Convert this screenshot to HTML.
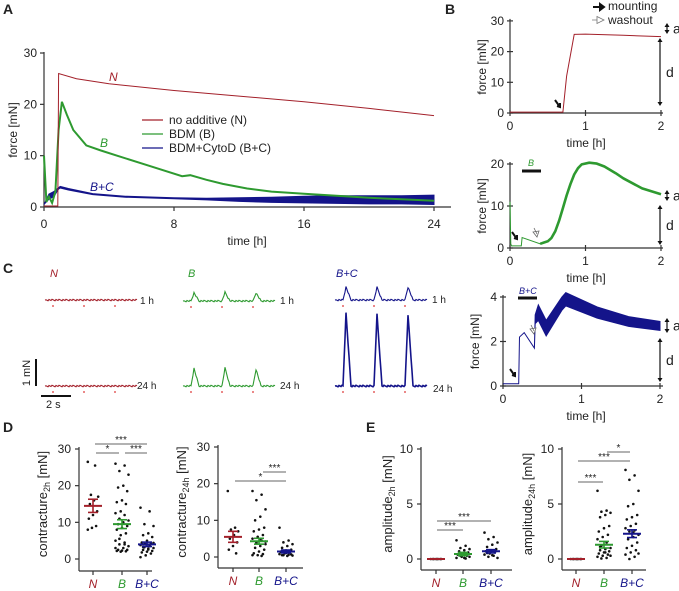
<!DOCTYPE html>
<html><head><meta charset="utf-8"><style>
html,body{margin:0;padding:0;background:#fff}
svg{display:block;font-family:"Liberation Sans",sans-serif}
</style></head><body>
<svg id="fig" width="679" height="591" viewBox="0 0 679 591" xmlns="http://www.w3.org/2000/svg">
<g id="static" font-size="11" fill="#222">
<text x="3" y="14" font-weight="bold" font-size="14">A</text>
<text x="445" y="14" font-weight="bold" font-size="14">B</text>
<text x="3" y="273" font-weight="bold" font-size="14">C</text>
<text x="3" y="432" font-weight="bold" font-size="14">D</text>
<text x="366" y="432" font-weight="bold" font-size="14">E</text>
</g>
<g id="dyn"></g>
</svg>
<script>
// ---------- data ----------
const aTimeN=[0,0.85,0.9,2,4,8,12,16,20,24];
const aValN=[0.2,0.2,26,25,24,22.7,21.6,20.5,19.2,17.8];
const aTimeB=[0,0.15,0.3,0.5,0.7,0.9,1.1,1.4,1.8,2.6,3.5,4.5,6.5,8.5,9,10,11,12.5,14,16,18,20,22,24];
const aValB=[10,1,2,0.8,3,15,20.5,18,15,12,11,10,8,6,6.2,5.3,4.5,3.6,3,2.6,2.2,1.8,1.5,1.2];
const aTimeBC=[0,0.3,0.6,0.9,1,1.5,3,5,8,10,12,14,16,18,20,22,24];
const aValBCup=[0.5,2.5,3,3.8,4,3.6,2.6,2.1,1.8,1.7,1.8,1.9,2.1,2.2,2.2,2.2,2.3];
const aValBClo=[0.5,1.5,2,3.5,3.7,3.3,2.4,1.9,1.6,1.4,1.1,0.9,0.8,0.7,0.6,0.6,0.5];
const bTopT=[0,0.7,0.75,0.85,1,1.5,2];
const bTopV=[0.3,0.3,12,25.6,25.7,25.3,24.9];
const bMidT=[0,0.01,0.02,0.15,0.16,0.4,0.45,0.5,0.55,0.6,0.65,0.7,0.75,0.8,0.85,0.9,0.95,1.05,1.15,1.25,1.4,1.5,1.75,2];
const bMidV=[11,1,0.5,0.5,2.5,1,1.3,1.6,2.4,4,6.5,9.5,12.5,15.2,17.5,19,19.9,20.3,20.1,19.4,17.8,16.6,14.2,12.8];
const bBotT=[0,0.2,0.21,0.27,0.4,0.41,0.45,0.55,0.75,0.8,1.2,1.6,2];
const bBotV=[0.1,0.1,2.2,2.4,1.7,3.0,3.3,2.6,3.7,3.9,3.3,2.9,2.7];
const bBotW=[0,0,0,0,0,0.2,0.35,0.35,0.3,0.3,0.25,0.22,0.2];
const cPeaksN1=[0,0,0], cPeaksN24=[0,0,0];
const cPeaksB1=[0.3,0.32,0.3], cPeaksB24=[0.65,0.67,0.62];
const cPeaksBC1=[0.48,0.47,0.48], cPeaksBC24=[2.7,2.65,2.65];
const cats=["N","B","B+C"];
const d1N=[26.5,25.5,17.5,17,16,15,13,12,11,9,8.5,8];
const d1B=[26,25.5,24,23,20,19.5,18.5,16,15.5,15,13,12.5,12,11,10.5,10,9.5,9,8.5,8,7,6.5,5,4.5,4,3.5,3,2.5,2.5,2.3,2.2,2.1,2,3,4,5.5];
const d1BC=[14,13,9.5,9,7,6.5,6,5,4.5,4.2,4,3.8,3.5,3.2,3,2.8,2.5,2.2,2,1.8,1.5,1,0.5,3.6,4.1,4.4,2.6,3.3];
const d1Mean=[14.5,9.5,4], d1Sem=[1.8,1.2,0.6];
const d2N=[18,8,7.5,7,6,5,4,3,2,1];
const d2B=[18,17,15.5,13,11,10,8,7.5,7,6,5.5,5,4.5,4,3.5,3,2.5,2,1.5,1,0.8,0.5,0.5,0.3,3.8,4.2,4.6];
const d2BC=[8,4.5,4,3.5,3,2.5,2,1.8,1.5,1.2,1,0.8,0.6,0.5,0.4,0.3,0.5,0.7,1.1,1.4];
const d2Mean=[5.5,4.3,1.5], d2Sem=[1.5,0.8,0.4];
const e1N=[0,0,0,0,0,0,0,0];
const e1B=[1.7,1.2,1,0.9,0.8,0.7,0.6,0.5,0.4,0.3,0.2,0.1,0.05,0.3,0.2,0.1,0.6,0.45];
const e1BC=[2.4,2,1.8,1.5,1.3,1.1,0.9,0.8,0.7,0.6,0.5,0.4,0.3,0.2,0.1,0.35,0.55];
const e1Mean=[0,0.45,0.7], e1Sem=[0,0.15,0.15];
const e2N=[0,0,0,0,0,0,0,0];
const e2B=[6.2,4.4,4.3,4.2,4,3.8,3,2.8,2.5,2.2,2,1.8,1.5,1.2,1,0.9,0.8,0.7,0.6,0.5,0.4,0.3,0.2,0.1,0.05,0.3,0.6,1.1];
const e2BC=[8.1,7.6,7.2,6.2,5,4.8,4,3.8,3.6,3.2,3,2.8,2.6,2.5,2.2,2,1.8,1.5,1.2,1,0.8,0.6,0.4,0.2,0,0.5,2.4];
const e2Mean=[0,1.3,2.3], e2Sem=[0,0.3,0.35];

const RED="#a3202a",GRN="#2e9a30",BLU="#14148a";
const NS="http://www.w3.org/2000/svg";
const root=document.getElementById('dyn');
function el(tag,attrs,parent){const e=document.createElementNS(NS,tag);for(const k in attrs)e.setAttribute(k,attrs[k]);(parent||root).appendChild(e);return e;}
function txt(x,y,s,attrs){const e=el('text',Object.assign({x:x,y:y,'font-size':11,fill:'#222'},attrs||{}));e.textContent=s;return e;}
function line(x1,y1,x2,y2,c,w){return el('line',{x1:x1,y1:y1,x2:x2,y2:y2,stroke:c||'#333','stroke-width':w||1.2});}
function pathFrom(ts,vs,sx,sy){return ts.map((t,i)=>(i?'L':'M')+sx(t).toFixed(1)+','+sy(vs[i]).toFixed(1)).join('');}

// ---------- Panel A ----------
{
const sx=t=>44+t*16.25, sy=v=>207-v*5.133;
let e=line(44,207,451,207);
e=line(44,207,44,52);
[0,10,20,30].forEach(v=>{line(40,sy(v),44,sy(v));const t=txt(37,sy(v)+4,String(v),{'text-anchor':'end','font-size':12});});
[0,8,16,24].forEach(v=>{line(sx(v),207,sx(v),211);const t=txt(sx(v),228,String(v),{'text-anchor':'middle','font-size':12});});
e=txt(247,245,'time [h]',{'text-anchor':'middle','font-size':12});
e=txt(0,0,'force [mN]',{'text-anchor':'middle','font-size':12,transform:'translate(17,130) rotate(-90)'});
let up=aTimeBC.map((t,i)=>sx(t)+','+sy(aValBCup[i])).join(' ');
let lo=aTimeBC.slice().reverse().map((t,i)=>{const j=aTimeBC.length-1-i;return sx(t)+','+sy(aValBClo[j]);}).join(' ');
e=el('polygon',{points:up+' '+lo,fill:BLU,stroke:BLU,'stroke-width':1});
e=el('path',{d:pathFrom(aTimeB,aValB,sx,sy),fill:'none',stroke:GRN,'stroke-width':2});
e=el('path',{d:pathFrom(aTimeN,aValN,sx,sy),fill:'none',stroke:RED,'stroke-width':1});
e=txt(109,81,'N',{fill:RED,'font-style':'italic','font-size':12});
e=txt(100,147,'B',{fill:GRN,'font-style':'italic','font-size':12});
e=txt(90,191,'B+C',{fill:BLU,'font-style':'italic','font-size':12});
[["no additive (N)",RED,120],["BDM (B)",GRN,134],["BDM+CytoD (B+C)",BLU,148]].forEach(l=>{
 const g=el('g',{});
 el('line',{x1:142,y1:l[2],x2:163,y2:l[2],stroke:l[1],'stroke-width':1.2},g);
 const t=el('text',{x:169,y:l[2]+4,'font-size':12,fill:'#222'},g);t.textContent=l[0];});
}

// ---------- Panel B ----------
function bAxes(name,ox,x0,y0,ticksY,sy,sx){
 let e=line(ox,y0,663,y0);
 e=line(ox,y0,ox,sy(ticksY[ticksY.length-1])-2);
 ticksY.forEach(v=>{line(ox-3,sy(v),ox+3,sy(v));const t=txt(ox-6,sy(v)+4,String(v),{'text-anchor':'end','font-size':12});});
 [0,1,2].forEach(v=>{line(sx(v),y0-3,sx(v),y0+3);const t=txt(sx(v),y0+17,String(v),{'text-anchor':'middle','font-size':12});});
 e=txt(586,y0+34,'time [h]',{'text-anchor':'middle','font-size':12});
 const ym=(y0+sy(ticksY[ticksY.length-1]))/2;
 e=txt(0,0,'force [mN]',{'text-anchor':'middle','font-size':12,transform:'translate('+(ox-24)+','+ym+') rotate(-90)'});
}
function dbl(x,y1,y2,lab,name){
 let e=el('line',{x1:x,y1:y1+3,x2:x,y2:y2-3,stroke:'#111','stroke-width':1.2});
 el('path',{d:`M${x-2.5},${y1+4}L${x},${y1}L${x+2.5},${y1+4}Z M${x-2.5},${y2-4}L${x},${y2}L${x+2.5},${y2-4}Z`,fill:'#111'});
 const t=txt(x+6,(y1+y2)/2+5,lab,{'font-size':14});
}
function mountArrow(x,y){el('path',{d:`M${x-5},${y-7}L${x},${y}M${x-3},${y-1}L${x},${y}L${x},${y-4}`,stroke:'#111','stroke-width':2,fill:'none'});}
function washArrow(x,y){el('path',{d:`M${x-3},${y-9}L${x},${y-3}M${x-4},${y-5}L${x},${y}L${x+2},${y-6}Z`,stroke:'#666','stroke-width':0.8,fill:'#fff'});}
{
const sx=t=>510+t*75.5, sy=v=>113-v*3.07;
bAxes('b-top',510,510,113,[0,10,20,30],sy,sx);
let e=el('path',{d:pathFrom(bTopT,bTopV,sx,sy),fill:'none',stroke:RED,'stroke-width':1});
mountArrow(560,107);
dbl(667,23,34,'a','b-top-amplitude-arrow');dbl(660,38,106,'d','b-top-contracture-arrow');
el('path',{d:'M593,7L604,7M600,4L604,7L600,10Z',stroke:'#111','stroke-width':2,fill:'#111'});
e=txt(608,10,'mounting',{'font-size':12});
el('path',{d:'M592,20L597,20M597,16.5L604,20L597,23.5Z',stroke:'#777','stroke-width':0.8,fill:'#fff'});
e=txt(608,24,'washout',{'font-size':12});
}
{
const sx=t=>510+t*75.5, sy=v=>248-v*4.2;
bAxes('b-mid',510,510,248,[0,10,20],sy,sx);
let e=el('path',{d:pathFrom(bMidT,bMidV,sx,sy),fill:'none',stroke:GRN,'stroke-width':1});
const i0=bMidT.indexOf(0.4);
e=el('path',{d:pathFrom(bMidT.slice(i0),bMidV.slice(i0),sx,sy),fill:'none',stroke:GRN,'stroke-width':2.6,'stroke-linejoin':'round'});
e=line(522,171,541,171,'#111',3);
txt(528,166,'B',{fill:GRN,'font-style':'italic','font-size':9});
mountArrow(517,239);washArrow(537,237);
dbl(667,190,201,'a','b-mid-amplitude-arrow');dbl(660,205,245,'d','b-mid-contracture-arrow');
}
{
const sx=t=>503+t*78.5, sy=v=>386-v*22.25;
bAxes('b-bot',503,503,386,[0,2,4],sy,sx);
const upper=bBotT.map((t,i)=>sx(t)+','+sy(bBotV[i]+bBotW[i])).join(' ');
const lower=bBotT.slice().reverse().map((t,k)=>{const i=bBotT.length-1-k;return sx(t)+','+sy(bBotV[i]-bBotW[i]);}).join(' ');
let e=el('polygon',{points:upper+' '+lower,fill:BLU,stroke:BLU,'stroke-width':1});
e=line(518,298,537,298,'#111',3);
txt(519,294,'B+C',{fill:BLU,'font-style':'italic','font-size':9});
mountArrow(515,376);washArrow(534,334);
dbl(667,318,333,'a','b-bot-amplitude-arrow');dbl(660,338,382,'d','b-bot-contracture-arrow');
}

// ---------- Panel C ----------
function trace(x0,y0,peaks,col,name){
 const w=92, pk=[11,42,73];
 let d='M'+x0+','+y0;
 for(let x=1;x<=w;x++){
  let v=0;
  pk.forEach((p,k)=>{const dx=x-p;if(dx>=-3&&dx<=5){v+=peaks[k]*(dx<0?(dx+3)/3:Math.max(0,1-dx/5));}});
  const n=((x*37)%7-3)*0.25;
  d+='L'+(x0+x)+','+(y0-v*27+n).toFixed(1);
 }
 const e=el('path',{d:d,fill:'none',stroke:col,'stroke-width':peaks[0]>1?1.6:1.1});
 pk.forEach(p=>el('circle',{cx:x0+p-3,cy:y0+6,r:0.9,fill:'#d33'}));
}
trace(45,300,cPeaksN1,RED,'trace-n-1h');trace(45,386,cPeaksN24,RED,'trace-n-24h');
trace(183,301,cPeaksB1,GRN,'trace-b-1h');trace(183,386,cPeaksB24,GRN,'trace-b-24h');
trace(335,300,cPeaksBC1,BLU,'trace-bc-1h');trace(335,386,cPeaksBC24,BLU,'trace-bc-24h');
[[50,'N',RED],[188,'B',GRN],[336,'B+C',BLU]].forEach(a=>{const t=txt(a[0],277,a[1],{fill:a[2],'font-style':'italic','font-size':11});});
[[140,304],[280,304],[432,303]].forEach(p=>{const t=txt(p[0],p[1],'1 h',{'font-size':10});});
[[137,389],[280,389],[433,392]].forEach(p=>{const t=txt(p[0],p[1],'24 h',{'font-size':10});});
{let e=line(36,359,36,386,'#111',2);
e=txt(0,0,'1 mN',{'text-anchor':'middle','font-size':11,transform:'translate(30,373) rotate(-90)'});
e=line(41,396,71,396,'#111',2);
txt(46,408,'2 s',{'font-size':11});}

// ---------- Panels D/E ----------
function dot(name,ax,x0,xEnd,yTop,yZero,yAxisY,max,ticks,catX,groups,means,sems,ylab,sub,labX,sigs){
 const sy=v=>yZero-(yZero-yTop)*v/max;
 let e=line(ax,yAxisY,xEnd,yAxisY);
 e=line(ax,yAxisY,ax,yTop-2);
 ticks.forEach(v=>{line(ax-4,sy(v),ax,sy(v));const t=txt(ax-8,sy(v)+4,String(v),{'text-anchor':'end','font-size':12});});
 const cols=[RED,GRN,BLU];
 catX.forEach((x,k)=>{line(x,yAxisY,x,yAxisY+4);const t=txt(x,yAxisY+17,cats[k],{'text-anchor':'middle','font-size':12,fill:cols[k],'font-style':'italic'});});
 groups.forEach((arr,k)=>{arr.forEach((v,i)=>{const j=(((i*7)%11)-5)*1.3*(k==0?0.8:1);const c=el('circle',{cx:catX[k]+j,cy:sy(v),r:1.3,fill:'#111'});});
  const m=means[k],s=sems[k],c=cols[k];
  const g=el('g',{stroke:c,'stroke-width':1.6});
  el('line',{x1:catX[k]-9,y1:sy(m),x2:catX[k]+9,y2:sy(m),'stroke-width':2},g);
  if(s>0){el('line',{x1:catX[k],y1:sy(m-s),x2:catX[k],y2:sy(m+s)},g);el('line',{x1:catX[k]-5,y1:sy(m-s),x2:catX[k]+5,y2:sy(m-s)},g);el('line',{x1:catX[k]-5,y1:sy(m+s),x2:catX[k]+5,y2:sy(m+s)},g);}
 });
 const ym=(yZero+yTop)/2;
 const t=el('text',{'text-anchor':'middle','font-size':13,fill:'#222',transform:'translate('+labX+','+ym+') rotate(-90)'});
 
 t.appendChild(document.createTextNode(ylab));const ts=document.createElementNS(NS,'tspan');ts.setAttribute('font-size','9');ts.setAttribute('dy','3');ts.textContent=sub;t.appendChild(ts);
 const ts2=document.createElementNS(NS,'tspan');ts2.setAttribute('dy','-3');ts2.textContent=' [mN]';t.appendChild(ts2);
 sigs.forEach(s=>{const l=line(s[0],s[2],s[1],s[2],'#666',1);txt((s[0]+s[1])/2,s[2]-1,s[3],{'text-anchor':'middle','font-size':10});});
}
dot('d-2h',79,79,152,449,559,571,30,[0,10,20,30],[93,122,147],[d1N,d1B,d1BC],d1Mean,d1Sem,'contracture','2h',47,[[95,147,444,'***'],[96,119,453,'*'],[125,147,453,'***']]);
dot('d-24h',218,218,303,447,557,568,30,[0,10,20,30],[233,259,286],[d2N,d2B,d2BC],d2Mean,d2Sem,'contracture','24h',186,[[235,286,481,'*'],[263,286,472,'***']]);
dot('e-2h',421,421,512,449,559,570,10,[0,5,10],[436,463,491],[e1N,e1B,e1BC],e1Mean,e1Sem,'amplitude','2h',392,[[437,491,521,'***'],[437,463,530,'***']]);
dot('e-24h',562,562,646,449,559,570,10,[0,5,10],[576,604,632],[e2N,e2B,e2BC],e2Mean,e2Sem,'amplitude','24h',532,[[607,630,452,'*'],[578,630,461,'***'],[578,603,482,'***']]);
</script>
</body></html>
